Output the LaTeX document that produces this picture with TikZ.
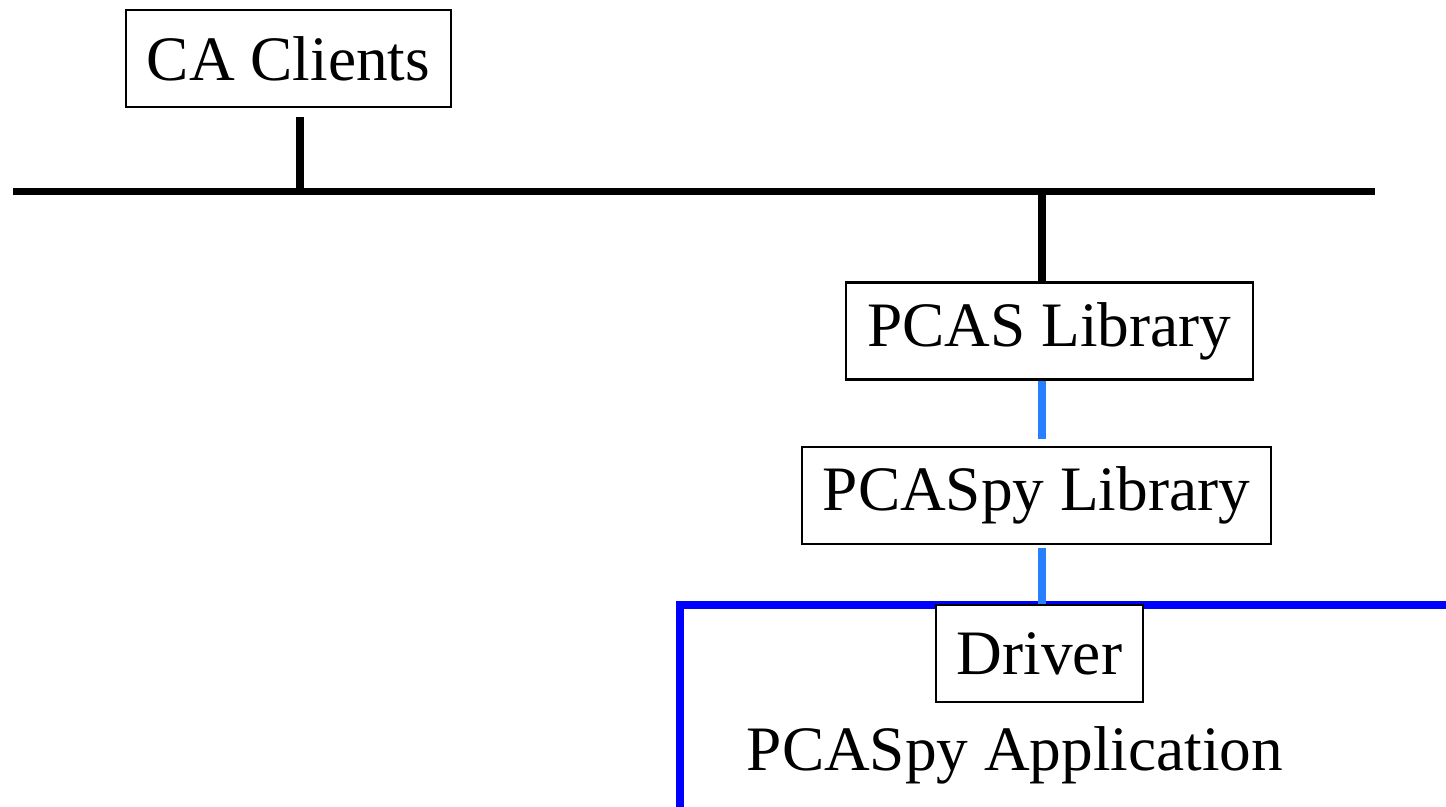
\documentclass[tikz,border=0pt]{standalone}
\usepackage{fontspec}
\setmainfont{Liberation Serif}
\definecolor{linkblue}{RGB}{38,128,255}
\begin{document}
\begin{tikzpicture}[x=0.01cm,y=-0.01cm]
    \tikzstyle{every node}=[font=\fontsize{18}{22}\selectfont];
    \tikzstyle{box}=[draw,line width=0.6pt,fill=white,inner xsep=6pt,minimum height=0.97cm];
    \useasboundingbox (0,0) rectangle (1446,807);
    \clip (0,0) rectangle (1446,807);
    % application frame
    \draw[blue,line width=2.2pt] (1470,605) -- (680,605) -- (680,830);
    \node[box] (ca) at (288.5,58.5) {CA Clients};
    \node[box] (pcas) at (1049.5,331) {PCAS Library};
    \node[box] (pcaspy) at (1036.5,495.5) {PCASpy Library};
    \node[box] (driver) at (1039.5,653.5) {Driver};
    \node (app) [anchor=base] at (1015,770) {PCASpy Application};
    \coordinate (busW) at (13,191.5);
    \coordinate (busE) at (1375,191.5);
    \coordinate (caTap) at (300,191.5);
    \coordinate (pcasTap) at (1042,191.5);
    \draw[line width=2.2pt] (busW) -- (busE)
    (pcasTap) -- (pcasTap |- pcas.north);
    \draw[line width=2.2pt,shorten >=0.09cm] (caTap) -- (caTap |- ca.south);
    \draw[linkblue,line width=2.2pt,shorten >=0.07cm] (pcas.south -| pcasTap) -- (pcaspy.north -| pcasTap);
    \draw[linkblue,line width=2.2pt,shorten <=0.03cm] (pcaspy.south -| pcasTap) -- (driver.north -| pcasTap);
  \end{tikzpicture}
\end{document}
